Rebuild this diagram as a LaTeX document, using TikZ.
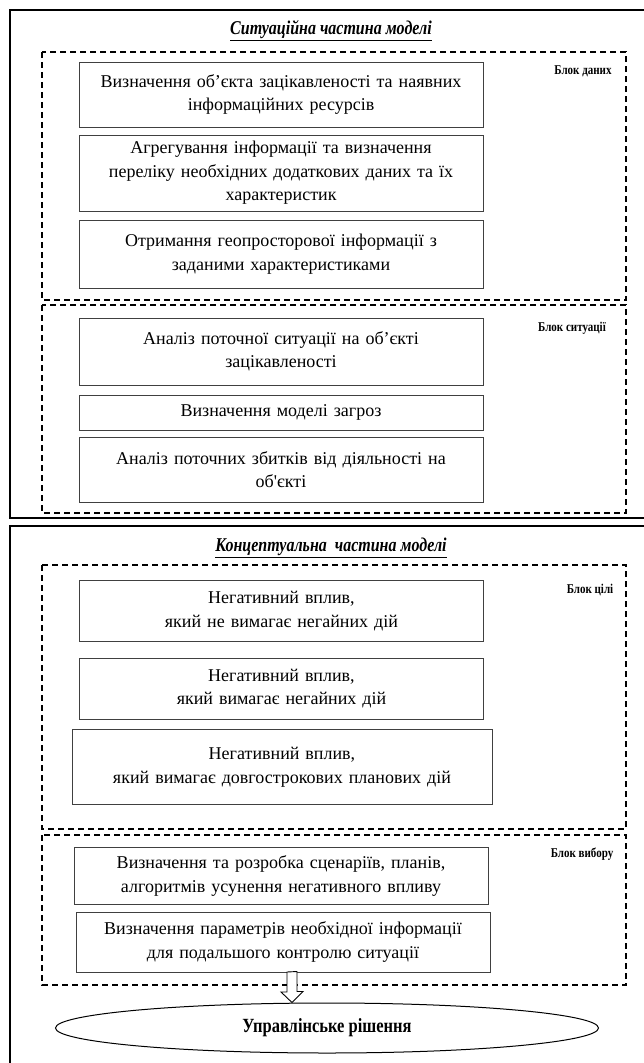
\documentclass[tikz,border=0pt]{standalone}
\usepackage{fontspec}
\usepackage{graphicx}
\setmainfont{Liberation Serif}
\newfontfamily\plainserif{Liberation Serif}
\usetikzlibrary{shapes.geometric,positioning}
\newcommand{\tallbox}[1]{\scalebox{1}[1.22]{#1}}

\begin{document}
\begin{tikzpicture}[x=1pt, y=-1pt,
    frame/.style={draw, line width=1.6pt},
    group/.style={draw, dashed, line width=1.2pt, dash pattern=on 6pt off 4pt},
    block/.style={rectangle, draw=black!75, line width=0.9pt, text width=#1, align=center,
                  font=\fontsize{18}{23.5}\selectfont, inner sep=2pt},
    block/.default=400pt,
    tag/.style={font=\fontsize{11}{13}\selectfont\bfseries},
    heading/.style={font=\fontsize{16}{18}\selectfont\bfseries\itshape},
    decision/.style={ellipse, draw, line width=1pt, minimum width=543pt, minimum height=50pt,
                     font=\fontsize{16.5}{18}\selectfont\bfseries}]

    \useasboundingbox (0,0) rectangle (643,1063);

    % Situational part
    \draw [frame] (648,10) -- (10,10) -- (10,518) -- (648,518);
    \node [heading] (sit_title) at (331,31) {\tallbox{\underline{Ситуаційна частина моделі}}};

    % Data block
    \draw [group] (42,52) rectangle (626,300);
    \node [tag] (data_tag) at (583,71) {\tallbox{Блок даних}};
    \node [block, minimum height=65pt] (object) at (281,94.5)
        {Визначення об’єкта зацікавленості та наявних\\ інформаційних ресурсів};
    \node [block, minimum height=76pt] (aggregate) at (281,173)
        {Агрегування інформації та визначення\\ переліку необхідних додаткових даних та їх\\ характеристик};
    \node [block, minimum height=68pt] (geo) at (281,254)
        {Отримання геопросторової інформації з\\ заданими характеристиками};

    % Situation block
    \draw [group] (42,305) rectangle (626,513);
    \node [tag] (sit_tag) at (572,328) {\tallbox{Блок ситуації}};
    \node [block, minimum height=67pt] (analysis) at (281,351.5)
        {Аналіз поточної ситуації на об’єкті\\ зацікавленості};
    \node [block, minimum height=35pt] (threats) at (281,412.5)
        {Визначення моделі загроз};
    \node [block, minimum height=65pt] (damage) at (281,469.5)
        {Аналіз поточних збитків від діяльності на\\ об{\plainserif'}єкті};

    % Conceptual part
    \draw [frame] (648,526) -- (10,526) -- (10,1068);
    \node [heading] (con_title) at (331,548) {\tallbox{\underline{Концептуальна\ \ частина моделі}}};

    % Goal block
    \draw [group] (42,565) rectangle (626,829);
    \node [tag] (goal_tag) at (590,590) {\tallbox{Блок цілі}};
    \node [block, minimum height=61pt] (neg_a) at (281.5,611)
        {Негативний вплив,\\ який не вимагає негайних дій};
    \node [block, minimum height=61pt] (neg_b) at (281.5,688.5)
        {Негативний вплив,\\ який вимагає негайних дій};
    \node [block=416pt, minimum height=75pt] (neg_c) at (282,767)
        {Негативний вплив,\\ який вимагає довгострокових планових дій};

    % Choice block
    \draw [group] (42,835) rectangle (626,985);
    \node [tag] (choice_tag) at (582,854) {\tallbox{Блок вибору}};
    \node [block=410pt, minimum height=57pt] (scenarios) at (281,876)
        {Визначення та розробка сценаріїв, планів,\\ алгоритмів усунення негативного впливу};
    \node [block=410pt, minimum height=60pt] (params) at (283,942)
        {Визначення параметрів необхідної інформації\\ для подальшого контролю ситуації};

    % Decision
    \node [decision] (decision) at (327,1028) {\tallbox{Управлінське рішення}};
    \coordinate (arrow_top) at (292,972);
    \draw [line width=0.9pt, fill=white] (arrow_top) ++(-5,0) -- ++(0,20) -- ++(-6,0)
        -- (decision.north -| arrow_top) -- ++(11,-11) -- ++(-6,0) -- ++(0,-20) -- cycle;

\end{tikzpicture}
\end{document}
